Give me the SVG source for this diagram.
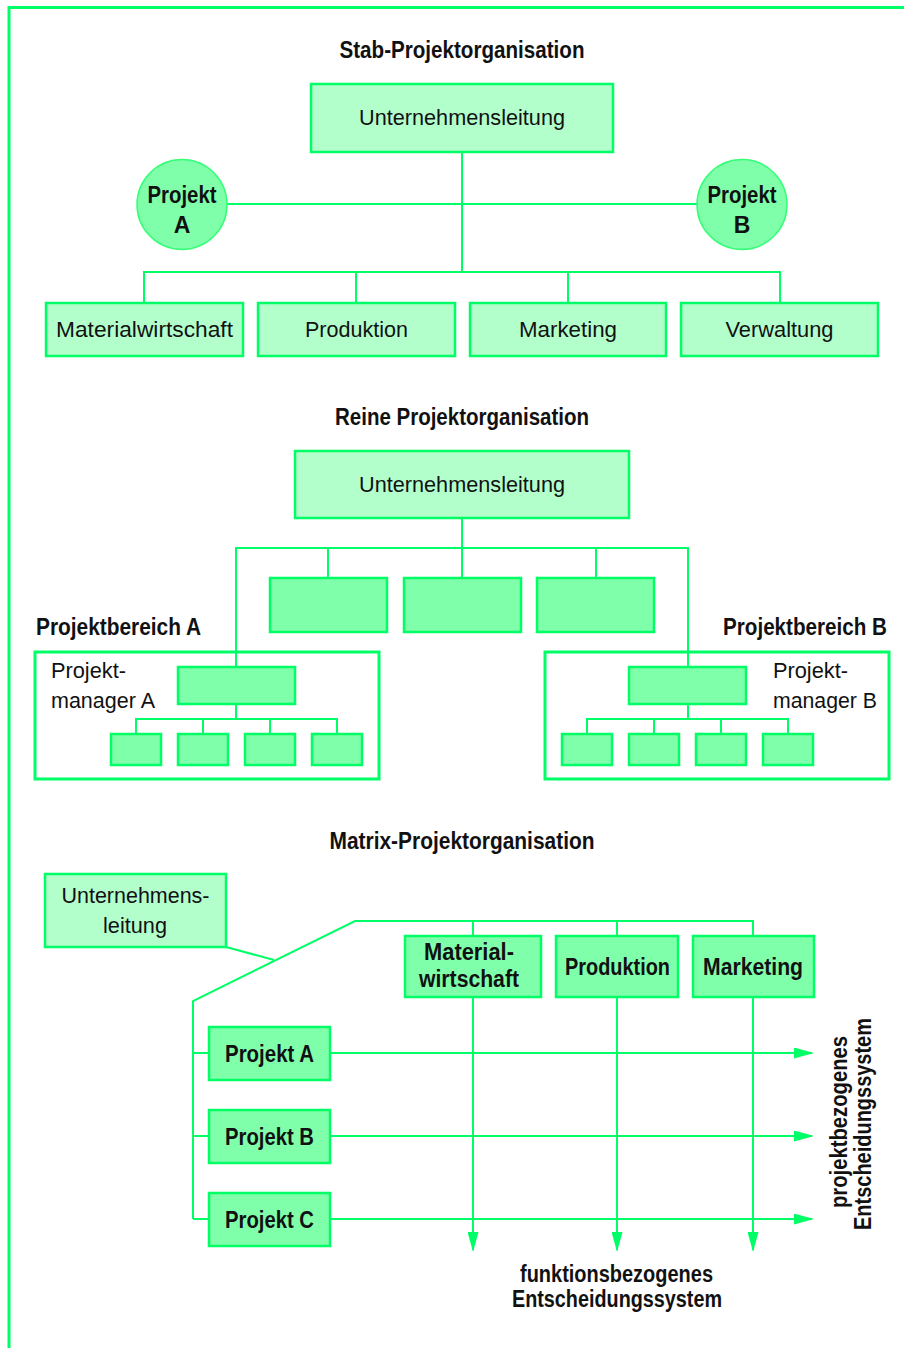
<svg xmlns="http://www.w3.org/2000/svg" width="904" height="1348" viewBox="0 0 904 1348">
  <style>
    .light { fill: #b3ffcc; stroke: #00ff66; stroke-width: 2.5; }
    .mid { fill: #80ffaa; stroke: #00ff66; stroke-width: 2.5; }
    .ring { fill: #80ffaa; stroke: #33ff77; stroke-width: 1.5; }
    .frame { fill: none; stroke: #00ff66; stroke-width: 3; }
    .wire { fill: none; stroke: #00ff66; stroke-width: 2; }
    .border { fill: none; stroke: #00ff66; stroke-width: 3; }
    text { font-family: "Liberation Sans", Arial, sans-serif; fill: #111111; }
    .r { font-size: 22.5px; }
    .b { font-size: 23px; font-weight: bold; }
    .c { text-anchor: middle; }
  </style>
  <defs>
    <marker id="arrow" markerUnits="userSpaceOnUse" markerWidth="20" markerHeight="11" refX="18" refY="5.5" orient="auto">
      <path d="M0,0 L20,5.5 L0,11 Z" fill="#00ff66"/>
    </marker>
  </defs>

  <rect width="904" height="1348" fill="#ffffff"/>
  <!-- page border (top and left edge only) -->
  <path class="border" d="M9,1348 V7.5 H904"/>

  <!-- ===== Stab-Projektorganisation ===== -->
  <text class="b c" x="462" y="58" textLength="245" lengthAdjust="spacingAndGlyphs">Stab-Projektorganisation</text>

  <g id="connectors">
    <!-- staff organisation -->
    <path class="wire" d="M462,152 V272"/>
    <path class="wire" d="M227,204 H697"/>
    <path class="wire" d="M144,303 V272 H780 V303"/>
    <path class="wire" d="M356,272 V303 M568,272 V303"/>
    <!-- pure project organisation -->
    <path class="wire" d="M462,518 V578"/>
    <path class="wire" d="M236,667 V548 H688 V667"/>
    <path class="wire" d="M328,548 V578 M596,548 V578"/>
    <path class="wire" d="M236,704 V719 M136,734 V719 H337 V734 M203,719 V734 M270,719 V734"/>
    <path class="wire" d="M688,704 V719 M587,734 V719 H788 V734 M654,719 V734 M721,719 V734"/>
    <!-- matrix organisation -->
    <path class="wire" d="M226,947 L274,960"/>
    <path class="wire" d="M193,1219 V1001 L355,921 H753 V936"/>
    <path class="wire" d="M473,921 V936 M617,921 V936"/>
    <path class="wire" d="M193,1053 H209 M193,1136 H209 M193,1219 H209"/>
    <path class="wire" d="M473,997 V1250" marker-end="url(#arrow)"/>
    <path class="wire" d="M617,997 V1250" marker-end="url(#arrow)"/>
    <path class="wire" d="M753,997 V1250" marker-end="url(#arrow)"/>
    <path class="wire" d="M330,1053 H812" marker-end="url(#arrow)"/>
    <path class="wire" d="M330,1136 H812" marker-end="url(#arrow)"/>
    <path class="wire" d="M330,1219 H812" marker-end="url(#arrow)"/>
  </g>

  <g id="stab-leitung">
    <rect class="light" x="311" y="84" width="302" height="68"/>
    <text class="r c" x="462" y="125" textLength="206" lengthAdjust="spacingAndGlyphs">Unternehmensleitung</text>
  </g>
  <g id="stab-projekt-a">
    <circle class="ring" cx="182" cy="204.5" r="45"/>
    <text class="b c" x="182" y="203" textLength="69" lengthAdjust="spacingAndGlyphs">Projekt</text>
    <text class="b c" x="182" y="233">A</text>
  </g>
  <g id="stab-projekt-b">
    <circle class="ring" cx="742" cy="204.5" r="45"/>
    <text class="b c" x="742" y="203" textLength="69" lengthAdjust="spacingAndGlyphs">Projekt</text>
    <text class="b c" x="742" y="233">B</text>
  </g>
  <g id="stab-materialwirtschaft">
    <rect class="light" x="46" y="303" width="197" height="53"/>
    <text class="r c" x="144.5" y="337" textLength="177" lengthAdjust="spacingAndGlyphs">Materialwirtschaft</text>
  </g>
  <g id="stab-produktion">
    <rect class="light" x="258" y="303" width="197" height="53"/>
    <text class="r c" x="356.5" y="337" textLength="103" lengthAdjust="spacingAndGlyphs">Produktion</text>
  </g>
  <g id="stab-marketing">
    <rect class="light" x="470" y="303" width="196" height="53"/>
    <text class="r c" x="568" y="337" textLength="98" lengthAdjust="spacingAndGlyphs">Marketing</text>
  </g>
  <g id="stab-verwaltung">
    <rect class="light" x="681" y="303" width="197" height="53"/>
    <text class="r c" x="779.5" y="337" textLength="108" lengthAdjust="spacingAndGlyphs">Verwaltung</text>
  </g>

  <!-- ===== Reine Projektorganisation ===== -->
  <text class="b c" x="462" y="425" textLength="254" lengthAdjust="spacingAndGlyphs">Reine Projektorganisation</text>

  <g id="rein-leitung">
    <rect class="light" x="295" y="451" width="334" height="67"/>
    <text class="r c" x="462" y="492" textLength="206" lengthAdjust="spacingAndGlyphs">Unternehmensleitung</text>
  </g>
  <g id="rein-funktionen">
    <rect class="mid" x="270" y="578" width="117" height="54"/>
    <rect class="mid" x="404" y="578" width="117" height="54"/>
    <rect class="mid" x="537" y="578" width="117" height="54"/>
  </g>

  <g id="projektbereich-a">
    <text class="b" x="36" y="635" textLength="165" lengthAdjust="spacingAndGlyphs">Projektbereich A</text>
    <rect class="frame" x="35" y="652" width="344" height="127"/>
    <text class="r" x="51" y="678" textLength="75" lengthAdjust="spacingAndGlyphs">Projekt-</text>
    <text class="r" x="51" y="708" textLength="104" lengthAdjust="spacingAndGlyphs">manager A</text>
    <rect class="mid" x="178" y="667" width="117" height="37"/>
    <rect class="mid" x="111" y="734" width="50" height="31"/>
    <rect class="mid" x="178" y="734" width="50" height="31"/>
    <rect class="mid" x="245" y="734" width="50" height="31"/>
    <rect class="mid" x="312" y="734" width="50" height="31"/>
  </g>

  <g id="projektbereich-b">
    <text class="b" x="723" y="635" textLength="164" lengthAdjust="spacingAndGlyphs">Projektbereich B</text>
    <rect class="frame" x="545" y="652" width="344" height="127"/>
    <text class="r" x="773" y="678" textLength="75" lengthAdjust="spacingAndGlyphs">Projekt-</text>
    <text class="r" x="773" y="708" textLength="104" lengthAdjust="spacingAndGlyphs">manager B</text>
    <rect class="mid" x="629" y="667" width="117" height="37"/>
    <rect class="mid" x="562" y="734" width="50" height="31"/>
    <rect class="mid" x="629" y="734" width="50" height="31"/>
    <rect class="mid" x="696" y="734" width="50" height="31"/>
    <rect class="mid" x="763" y="734" width="50" height="31"/>
  </g>

  <!-- ===== Matrix-Projektorganisation ===== -->
  <text class="b c" x="462" y="849" textLength="265" lengthAdjust="spacingAndGlyphs">Matrix-Projektorganisation</text>

  <g id="matrix-leitung">
    <rect class="light" x="45" y="874" width="181" height="73"/>
    <text class="r c" x="135.5" y="903" textLength="148" lengthAdjust="spacingAndGlyphs">Unternehmens-</text>
    <text class="r c" x="135" y="933" textLength="64" lengthAdjust="spacingAndGlyphs">leitung</text>
  </g>
  <g id="matrix-materialwirtschaft">
    <rect class="mid" x="405" y="936" width="136" height="61"/>
    <text class="b c" x="469" y="960" textLength="90" lengthAdjust="spacingAndGlyphs">Material-</text>
    <text class="b c" x="469" y="987" textLength="100" lengthAdjust="spacingAndGlyphs">wirtschaft</text>
  </g>
  <g id="matrix-produktion">
    <rect class="mid" x="556" y="936" width="122" height="61"/>
    <text class="b c" x="617.5" y="975" textLength="105" lengthAdjust="spacingAndGlyphs">Produktion</text>
  </g>
  <g id="matrix-marketing">
    <rect class="mid" x="693" y="936" width="121" height="61"/>
    <text class="b c" x="753" y="975" textLength="100" lengthAdjust="spacingAndGlyphs">Marketing</text>
  </g>
  <g id="matrix-projekt-a">
    <rect class="mid" x="209" y="1027" width="121" height="53"/>
    <text class="b c" x="269.5" y="1062" textLength="89" lengthAdjust="spacingAndGlyphs">Projekt A</text>
  </g>
  <g id="matrix-projekt-b">
    <rect class="mid" x="209" y="1110" width="121" height="53"/>
    <text class="b c" x="269.5" y="1145" textLength="89" lengthAdjust="spacingAndGlyphs">Projekt B</text>
  </g>
  <g id="matrix-projekt-c">
    <rect class="mid" x="209" y="1193" width="121" height="53"/>
    <text class="b c" x="269.5" y="1228" textLength="89" lengthAdjust="spacingAndGlyphs">Projekt C</text>
  </g>

  <g id="label-projektbezogen">
    <text class="b c" transform="translate(847,1122) rotate(-90)" x="0" y="0" textLength="172" lengthAdjust="spacingAndGlyphs">projektbezogenes</text>
    <text class="b c" transform="translate(871,1124) rotate(-90)" x="0" y="0" textLength="212" lengthAdjust="spacingAndGlyphs">Entscheidungssystem</text>
  </g>
  <g id="label-funktionsbezogen">
    <text class="b c" x="616.5" y="1282" textLength="193" lengthAdjust="spacingAndGlyphs">funktionsbezogenes</text>
    <text class="b c" x="617" y="1307" textLength="210" lengthAdjust="spacingAndGlyphs">Entscheidungssystem</text>
  </g>
</svg>
